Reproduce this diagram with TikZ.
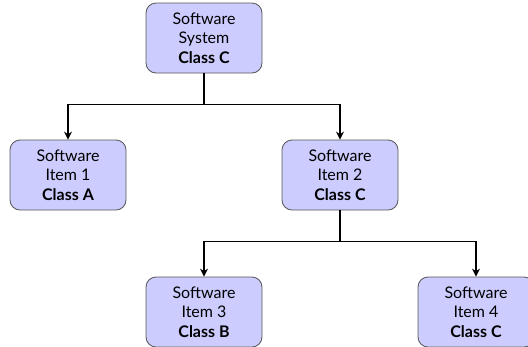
\documentclass[tikz,border=0pt]{standalone}
\usepackage{fontspec}
\setmainfont{Lato}
\usetikzlibrary{arrows.meta}
\definecolor{boxfill}{HTML}{CCCCFF}
\definecolor{boxline}{HTML}{555555}
\begin{document}
\begin{tikzpicture}[x=1pt,y=-1pt,
  box/.style={draw=boxline, fill=boxfill, rounded corners=10pt, minimum width=116pt, minimum height=70pt, align=center, inner sep=0pt, font=\fontsize{16}{19.5}\selectfont, line width=0.8pt},
  conn/.style={line width=1.6pt, -{Stealth[length=8pt,width=8pt]}}]
\useasboundingbox (0,0) rectangle (528,346);
\clip (0,0) rectangle (528,346);
\node[box] (top) at (204,38) {Software\\System\\\textbf{Class C}};
\node[box] (i1) at (68,175) {Software\\Item 1\\\textbf{Class A}};
\node[box] (i2) at (340,175) {Software\\Item 2\\\textbf{Class C}};
\node[box] (i3) at (204,312) {Software\\Item 3\\\textbf{Class B}};
\node[box] (i4) at (476,312) {Software\\Item 4\\\textbf{Class C}};
\draw[conn] (top.south) -- ++(0,31) -| (i1.north);
\draw[conn] (top.south) -- ++(0,31) -| (i2.north);
\draw[conn] (i2.south) -- ++(0,31) -| (i3.north);
\draw[conn] (i2.south) -- ++(0,31) -| (i4.north);
\end{tikzpicture}
\end{document}
